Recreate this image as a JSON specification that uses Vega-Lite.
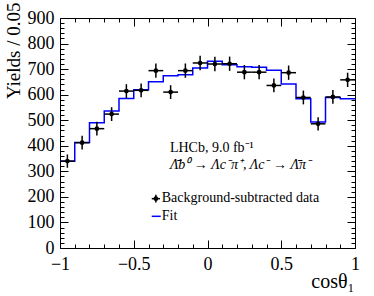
{
  "$schema": "https://vega.github.io/schema/vega-lite/v6.json",
  "width": 295,
  "height": 230,
  "autosize": {"type": "none"},
  "padding": {"left": 60, "top": 18, "right": 19, "bottom": 48},
  "background": "white",
  "config": {
    "view": {"stroke": "black", "strokeWidth": 1},
    "font": "Liberation Serif",
    "axis": {
      "labelFont": "Liberation Serif",
      "titleFont": "Liberation Serif",
      "labelColor": "black",
      "titleColor": "black",
      "tickColor": "black",
      "tickWidth": 1,
      "domain": false,
      "grid": false,
      "labelFlush": false,
      "titleFontWeight": "normal"
    }
  },
  "datasets": {
    "data": [
      {"c": -0.95, "x0": -1.0, "x1": -0.9, "y": 340, "lo": 314, "hi": 366},
      {"c": -0.85, "x0": -0.9, "x1": -0.8, "y": 412, "lo": 385, "hi": 439},
      {"c": -0.75, "x0": -0.8, "x1": -0.7, "y": 467, "lo": 440, "hi": 494},
      {"c": -0.65, "x0": -0.7, "x1": -0.6, "y": 524, "lo": 497, "hi": 551},
      {"c": -0.55, "x0": -0.6, "x1": -0.5, "y": 614, "lo": 587, "hi": 641},
      {"c": -0.45, "x0": -0.5, "x1": -0.4, "y": 617, "lo": 590, "hi": 644},
      {"c": -0.35, "x0": -0.4, "x1": -0.3, "y": 694, "lo": 666, "hi": 722},
      {"c": -0.25, "x0": -0.3, "x1": -0.2, "y": 610, "lo": 583, "hi": 637},
      {"c": -0.15, "x0": -0.2, "x1": -0.1, "y": 694, "lo": 666, "hi": 722},
      {"c": -0.05, "x0": -0.1, "x1": 0.0, "y": 724, "lo": 696, "hi": 752},
      {"c": 0.05, "x0": 0.0, "x1": 0.1, "y": 720, "lo": 692, "hi": 748},
      {"c": 0.15, "x0": 0.1, "x1": 0.2, "y": 721, "lo": 693, "hi": 749},
      {"c": 0.25, "x0": 0.2, "x1": 0.3, "y": 688, "lo": 660, "hi": 716},
      {"c": 0.35, "x0": 0.3, "x1": 0.4, "y": 688, "lo": 660, "hi": 716},
      {"c": 0.45, "x0": 0.4, "x1": 0.5, "y": 636, "lo": 609, "hi": 663},
      {"c": 0.55, "x0": 0.5, "x1": 0.6, "y": 686, "lo": 658, "hi": 714},
      {"c": 0.65, "x0": 0.6, "x1": 0.7, "y": 589, "lo": 562, "hi": 616},
      {"c": 0.75, "x0": 0.7, "x1": 0.8, "y": 486, "lo": 460, "hi": 512},
      {"c": 0.85, "x0": 0.8, "x1": 0.9, "y": 591, "lo": 564, "hi": 618},
      {"c": 0.95, "x0": 0.9, "x1": 1.0, "y": 658, "lo": 630, "hi": 686}
    ],
    "fit": [
      {"e": -1.0, "v": 339},
      {"e": -0.9, "v": 413},
      {"e": -0.8, "v": 490},
      {"e": -0.7, "v": 536},
      {"e": -0.6, "v": 585},
      {"e": -0.5, "v": 619},
      {"e": -0.4, "v": 651},
      {"e": -0.3, "v": 674},
      {"e": -0.2, "v": 678},
      {"e": -0.1, "v": 704},
      {"e": 0.0, "v": 731},
      {"e": 0.1, "v": 717},
      {"e": 0.2, "v": 709},
      {"e": 0.3, "v": 707},
      {"e": 0.4, "v": 696},
      {"e": 0.5, "v": 642},
      {"e": 0.6, "v": 584},
      {"e": 0.7, "v": 493},
      {"e": 0.8, "v": 589},
      {"e": 0.9, "v": 584},
      {"e": 1.0, "v": 584}
    ],
    "one": [{}]
  },
  "resolve": {"axis": {"x": "independent", "y": "independent"}},
  "layer": [
    {
      "data": {"name": "fit"},
      "mark": {"type": "line", "interpolate": "step-after", "stroke": "#0000ff", "strokeWidth": 1.5},
      "encoding": {
        "x": {"field": "e", "type": "quantitative", "scale": {"domain": [-1, 1], "nice": false, "zero": false},
          "axis": {"orient": "bottom", "values": [-1, -0.5, 0, 0.5, 1], "format": "~g", "ticks": false, "labelFontSize": 18, "labelPadding": 7,
            "title": "cosθ₁", "titleFontSize": 20, "titleX": 294, "titleY": 39, "titleAlign": "right", "titleBaseline": "alphabetic", "titleAnchor": "end"}},
        "y": {"field": "v", "type": "quantitative", "scale": {"domain": [0, 900], "nice": false, "zero": true},
          "axis": {"orient": "left", "values": [0, 100, 200, 300, 400, 500, 600, 700, 800, 900], "ticks": false, "labelFontSize": 18, "labelPadding": 6,
            "title": "Yields / 0.05", "titleFontSize": 19, "titleAngle": 270, "titleX": -47, "titleY": -16, "titleAlign": "right", "titleBaseline": "middle", "titleAnchor": "end"}}
      }
    },
    {
      "data": {"name": "data"},
      "mark": {"type": "rule", "stroke": "black", "strokeWidth": 1.5},
      "encoding": {
        "x": {"field": "c", "type": "quantitative",
          "axis": {"orient": "bottom", "values": [-1, -0.5, 0, 0.5, 1], "labels": false, "tickSize": -8, "title": null}},
        "y": {"field": "lo", "type": "quantitative",
          "axis": {"orient": "left", "values": [0, 100, 200, 300, 400, 500, 600, 700, 800, 900], "labels": false, "tickSize": -8, "title": null}},
        "y2": {"field": "hi"}
      }
    },
    {
      "data": {"name": "data"},
      "mark": {"type": "rule", "stroke": "black", "strokeWidth": 1.5},
      "encoding": {
        "x": {"field": "x0", "type": "quantitative",
          "axis": {"orient": "bottom", "values": [-0.9, -0.8, -0.7, -0.6, -0.4, -0.3, -0.2, -0.1, 0.1, 0.2, 0.3, 0.4, 0.6, 0.7, 0.8, 0.9], "labels": false, "tickSize": -4, "title": null}},
        "x2": {"field": "x1"},
        "y": {"field": "y", "type": "quantitative",
          "axis": {"orient": "left", "values": [20, 40, 60, 80, 120, 140, 160, 180, 220, 240, 260, 280, 320, 340, 360, 380, 420, 440, 460, 480, 520, 540, 560, 580, 620, 640, 660, 680, 720, 740, 760, 780, 820, 840, 860, 880], "labels": false, "tickSize": -4, "title": null}}
      }
    },
    {
      "data": {"name": "data"},
      "mark": {"type": "point", "filled": true, "color": "black", "size": 22, "opacity": 1},
      "encoding": {
        "x": {"field": "c", "type": "quantitative",
          "axis": {"orient": "top", "values": [-1, -0.5, 0, 0.5, 1], "labels": false, "tickSize": -8, "title": null}},
        "y": {"field": "y", "type": "quantitative",
          "axis": {"orient": "right", "values": [0, 100, 200, 300, 400, 500, 600, 700, 800, 900], "labels": false, "tickSize": -8, "title": null}}
      }
    },
    {
      "data": {"name": "one"},
      "mark": {"type": "rule", "stroke": "#0000ff", "strokeWidth": 1.5},
      "encoding": {
        "x": {"datum": -0.378, "type": "quantitative",
          "axis": {"orient": "top", "values": [-0.9, -0.8, -0.7, -0.6, -0.4, -0.3, -0.2, -0.1, 0.1, 0.2, 0.3, 0.4, 0.6, 0.7, 0.8, 0.9], "labels": false, "tickSize": -4, "title": null}},
        "x2": {"datum": -0.317},
        "y": {"datum": 124, "type": "quantitative",
          "axis": {"orient": "right", "values": [20, 40, 60, 80, 120, 140, 160, 180, 220, 240, 260, 280, 320, 340, 360, 380, 420, 440, 460, 480, 520, 540, 560, 580, 620, 640, 660, 680, 720, 740, 760, 780, 820, 840, 860, 880], "labels": false, "tickSize": -4, "title": null}}
      }
    },
    {
      "data": {"name": "one"},
      "mark": {"type": "rule", "stroke": "black", "strokeWidth": 1.5},
      "encoding": {
        "x": {"datum": -0.378, "type": "quantitative", "axis": null},
        "x2": {"datum": -0.322},
        "y": {"datum": 193, "type": "quantitative", "axis": null}
      }
    },
    {
      "data": {"name": "one"},
      "mark": {"type": "rule", "stroke": "black", "strokeWidth": 1.5},
      "encoding": {
        "x": {"datum": -0.35, "type": "quantitative", "axis": null},
        "y": {"datum": 178, "type": "quantitative", "axis": null},
        "y2": {"datum": 208}
      }
    },
    {
      "data": {"name": "one"},
      "mark": {"type": "point", "filled": true, "color": "black", "size": 22, "opacity": 1},
      "encoding": {
        "x": {"datum": -0.35, "type": "quantitative", "axis": null},
        "y": {"datum": 193, "type": "quantitative", "axis": null}
      }
    },
    {
      "data": {"name": "one"},
      "mark": {"type": "text", "text": "Background-subtracted data", "font": "Liberation Serif", "fontSize": 14, "align": "left", "baseline": "alphabetic", "color": "black"},
      "encoding": {
        "x": {"datum": -0.31, "type": "quantitative", "axis": null},
        "y": {"datum": 180, "type": "quantitative", "axis": null}
      }
    },
    {
      "data": {"name": "one"},
      "mark": {"type": "text", "text": "Fit", "font": "Liberation Serif", "fontSize": 14, "align": "left", "baseline": "alphabetic", "color": "black"},
      "encoding": {
        "x": {"datum": -0.31, "type": "quantitative", "axis": null},
        "y": {"datum": 110, "type": "quantitative", "axis": null}
      }
    },
    {
      "data": {"name": "one"},
      "mark": {"type": "text", "text": "LHCb, 9.0 fb⁻¹", "font": "Liberation Serif", "fontSize": 14, "align": "left", "baseline": "alphabetic", "color": "black"},
      "encoding": {
        "x": {"datum": -0.255, "type": "quantitative", "axis": null},
        "y": {"datum": 375, "type": "quantitative", "axis": null}
      }
    },
    {
      "data": {"name": "one"},
      "mark": {"type": "text", "text": "Λ̄b⁰ → Λc⁻π⁺, Λc⁻ → Λ̄π⁻", "font": "Liberation Serif", "fontSize": 14, "fontStyle": "italic", "align": "left", "baseline": "alphabetic", "color": "black"},
      "encoding": {
        "x": {"datum": -0.255, "type": "quantitative", "axis": null},
        "y": {"datum": 310, "type": "quantitative", "axis": null}
      }
    }
  ]
}
